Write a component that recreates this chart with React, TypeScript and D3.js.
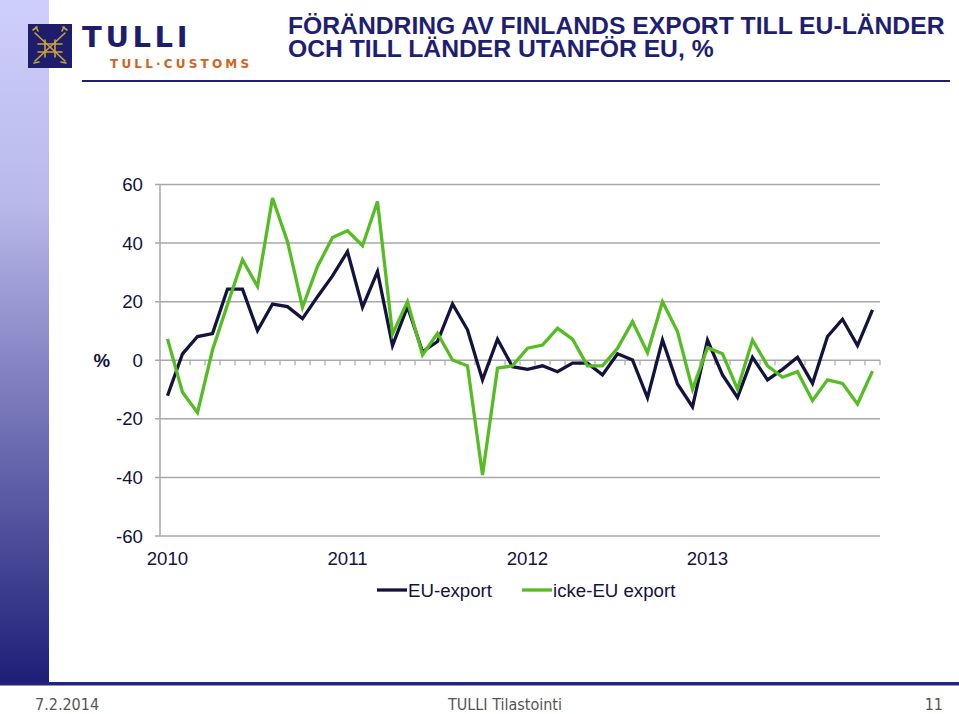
import React from 'react';
import * as d3 from 'd3';

// monthly change, 2010-01 .. 2013-12
const years = ['2010', '2011', '2012', '2013'];
const months = years.flatMap(y => d3.range(1, 13).map(m => `${y}-${String(m).padStart(2, '0')}`));

const euExport = [
  -12.1, 2.2, 8.1, 9.1, 24.3, 24.3, 10.1, 19.2, 18.3, 14.2, 21.7, 28.8,
  37.1, 18.1, 30.3, 5.0, 18.3, 2.9, 6.4, 19.2, 10.4, -6.7, 7.2, -2.2,
  -3.1, -1.9, -3.9, -1.0, -1.0, -5.0, 2.2, 0.1, -12.8, 6.9, -8.1, -15.9,
  6.9, -5.0, -12.7, 1.0, -6.7, -3.1, 1.0, -7.9, 8.1, 14.0, 5.0, 17.2,
];
const nonEuExport = [
  7.3, -10.9, -17.9, 3.5, 19.0, 34.3, 25.2, 55.4, 40.5, 18.1, 32.0, 41.9,
  44.2, 39.1, 54.2, 9.0, 20.0, 1.8, 9.2, 0.1, -1.9, -39.2, -2.7, -1.9,
  4.1, 5.2, 10.9, 7.2, -1.9, -1.9, 4.1, 13.2, 2.6, 20.0, 9.8, -9.9,
  4.3, 2.2, -9.9, 6.9, -1.9, -5.8, -3.9, -13.8, -6.7, -7.9, -14.9, -3.7,
];
const yTicks = [60, 40, 20, 0, -20, -40, -60];

const NAVY = '#13133d';
const GREEN = '#56bc24';
const TITLE = '#1e1e72';
const GRID = '#a8a8a8';
const FONT = '"Liberation Sans", Arial, sans-serif';
const LABEL = 18.67;

const App = () => {
  const x = d3.scaleBand<string>().domain(months).range([160, 880]);
  const y = d3.scaleLinear().domain([-60, 60]).range([536, 184.5]);

  const line = d3.line<number>()
    .x((_, i) => x(months[i])! + x.bandwidth() / 2)
    .y(d => y(d));

  const series = [
    { name: 'EU-export', values: euExport, color: NAVY },
    { name: 'icke-EU export', values: nonEuExport, color: GREEN },
  ];

  return (
    <svg width={959} height={714} style={{ position: 'absolute', left: 0, top: 0, background: '#fff' }}
      fontFamily={FONT}>
      <defs>
        <linearGradient id="stripe" x1="0" y1="0" x2="0" y2="1">
          <stop offset="0" stopColor="#cfcffd" />
          <stop offset="0.3" stopColor="#b8b8ea" />
          <stop offset="1" stopColor="#1e1e78" />
        </linearGradient>
      </defs>

      {/* slide frame */}
      <rect x={0} y={0} width={49} height={684} fill="url(#stripe)" />
      <rect x={0} y={682} width={959} height={3.5} fill="#23237a" />
      <line x1={82} x2={950} y1={81} y2={81} stroke={TITLE} strokeWidth={2} />

      {/* logo */}
      <g>
        <rect x={28} y={24} width={44} height={44} fill="#1d1d6c" />
        <g stroke="#c9a23a" strokeWidth={1.6} fill="none" strokeLinecap="round">
          <line x1={35} y1={33} x2={65} y2={61} />
          <line x1={65} y1={33} x2={35} y2={61} />
          <line x1={38} y1={44} x2={62} y2={44} />
          <line x1={38} y1={52} x2={62} y2={52} />
          <line x1={45} y1={40} x2={45} y2={57} />
          <line x1={55} y1={40} x2={55} y2={57} />
          <path d="M33,30 l4,-3 M36,27 l2,4 M67,30 l-4,-3 M64,27 l-2,4" />
          <path d="M34,63 l5,-1 M66,63 l-5,-1" />
        </g>
        <text x={82} y={47} fontSize={29} fontWeight="bold" fill="#1d1d6c" letterSpacing={3.6}
          fontFamily='"DejaVu Sans", sans-serif'>TULLI</text>
        <text x={110} y={68} fontSize={12} fontWeight="bold" fill="#d2631c" letterSpacing={3.2}
          fontFamily='"DejaVu Sans", sans-serif'>TULL·CUSTOMS</text>
      </g>

      {/* title */}
      <text fontSize={24.7} fontWeight="bold" fill={TITLE}>
        <tspan x={288} y={34}>FÖRÄNDRING AV FINLANDS EXPORT TILL EU-LÄNDER</tspan>
        <tspan x={288} y={57}>OCH TILL LÄNDER UTANFÖR EU, %</tspan>
      </text>

      {/* grid */}
      {yTicks.map(t => (
        <g key={t}>
          <line x1={155} x2={880} y1={y(t)} y2={y(t)} stroke={GRID} strokeWidth={1.5} />
          <text x={143} y={y(t)} dy="0.35em" textAnchor="end" fontSize={LABEL} fill={NAVY}>{t}</text>
        </g>
      ))}
      <line x1={160} x2={160} y1={y(60)} y2={y(-60)} stroke={GRID} strokeWidth={1.5} />
      {months.map(m => (
        <line key={m} x1={x(m)! + x.bandwidth()} x2={x(m)! + x.bandwidth()} y1={y(0)} y2={y(0) + 5}
          stroke={GRID} strokeWidth={1.2} />
      ))}
      <text x={110} y={y(0)} dy="0.35em" textAnchor="end" fontSize={LABEL} fontWeight="bold" fill={NAVY}>%</text>

      {/* year labels */}
      {years.map(yr => (
        <text key={yr} x={x(`${yr}-01`)! + x.bandwidth() / 2} y={565} textAnchor="middle" fontSize={LABEL} fill={NAVY}>
          {yr}
        </text>
      ))}

      {/* series */}
      {series.map(s => (
        <path key={s.name} d={line(s.values)!} fill="none" stroke={s.color} strokeWidth={3.3}
          strokeLinejoin="miter" />
      ))}

      {/* legend */}
      {series.map((s, i) => {
        const lx = i === 0 ? 377 : 522;
        return (
          <g key={s.name}>
            <line x1={lx} x2={lx + 30} y1={590} y2={590} stroke={s.color} strokeWidth={3.3} />
            <text x={lx + 31} y={597} fontSize={LABEL} fill={NAVY}>{s.name}</text>
          </g>
        );
      })}

      {/* footer */}
      <g fontSize={16} fill="#555" fontFamily='"Liberation Sans Narrow", "DejaVu Sans Condensed", sans-serif'>
        <text x={35} y={710}>7.2.2014</text>
        <text x={505} y={710} textAnchor="middle">TULLI  Tilastointi</text>
        <text x={943} y={710} textAnchor="end">11</text>
      </g>
    </svg>
  );
};

export default App;
